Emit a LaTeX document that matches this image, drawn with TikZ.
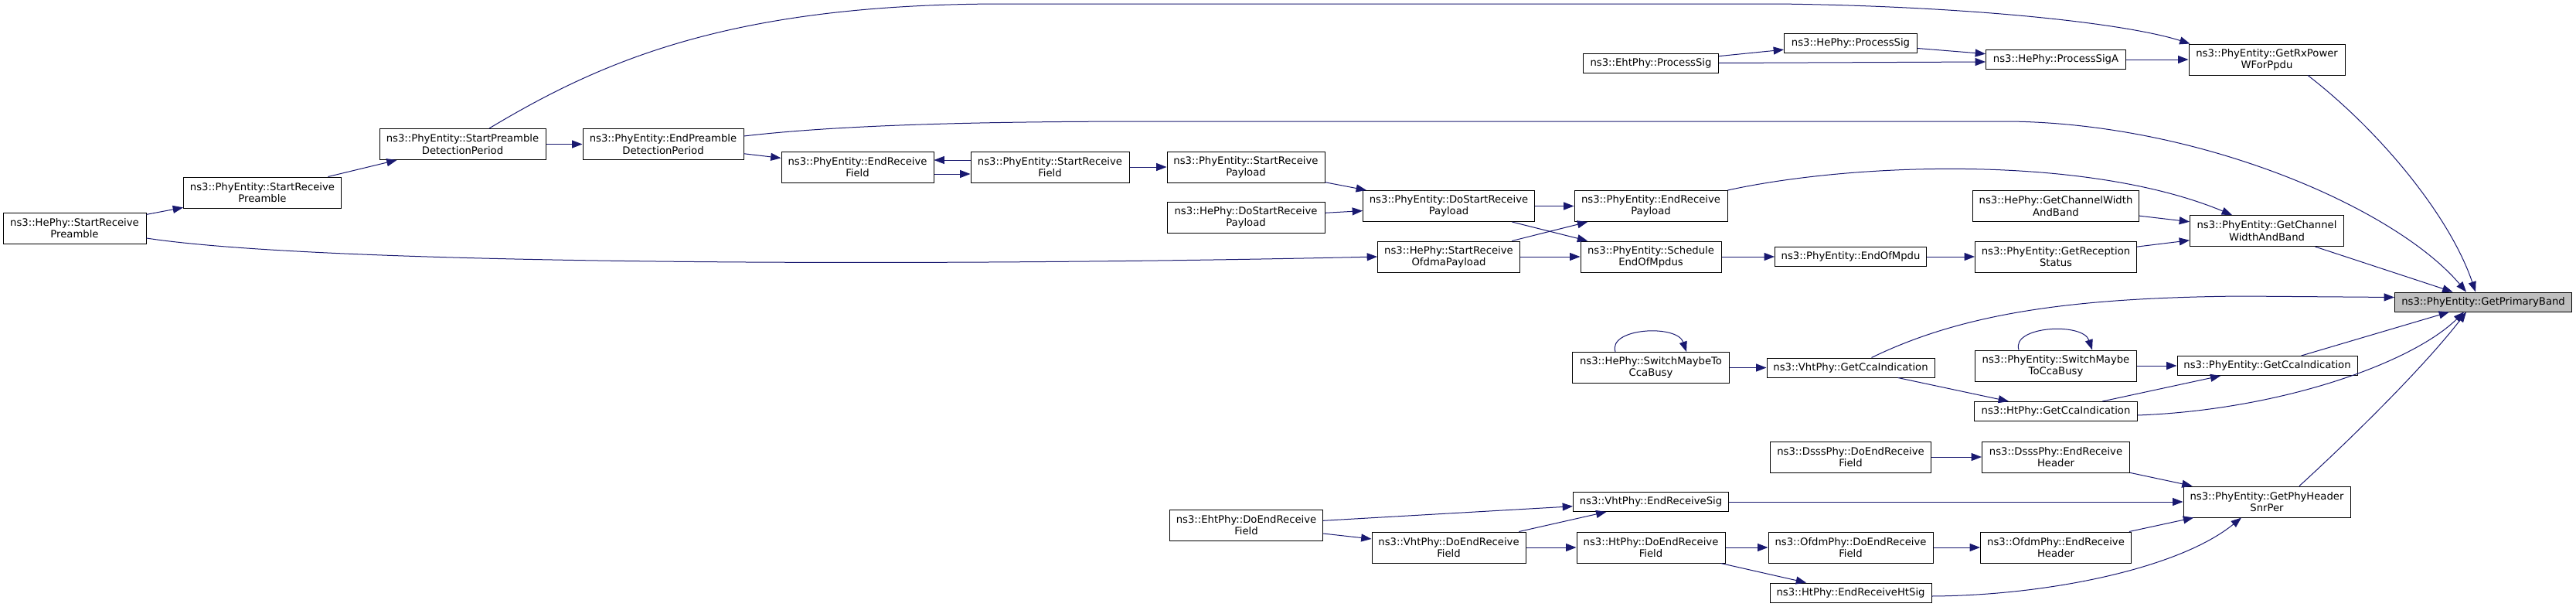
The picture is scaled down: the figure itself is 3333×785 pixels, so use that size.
\documentclass[tikz,border=0pt]{standalone}
\usepackage{fontspec}
\setmainfont{DejaVu Sans}
\usetikzlibrary{arrows.meta,calc}
\definecolor{edgeblue}{HTML}{191970}
\definecolor{focusgray}{HTML}{BFBFBF}
\tikzset{
  func/.style 2 args={draw=black, line width=0.75pt, fill=white,
    minimum width=#1*0.75pt, minimum height=#2*0.75pt, inner sep=0pt,
    align=center, font=\fontsize{9.9}{11.4}\selectfont},
  call/.style={draw=edgeblue, line width=0.75pt, -{Triangle[length=10pt,width=7.5pt]}}
}
\begin{document}
\begin{tikzpicture}[x=0.75pt,y=-0.75pt]
\useasboundingbox (0,0) rectangle (3333,785);
% callers, from left to right
\node[func={185}{40}] (hesrp) at (96.5,295) {ns3::HePhy::StartReceive\\Preamble};
\node[func={204}{40}] (srp) at (339.5,249) {ns3::PhyEntity::StartReceive\\Preamble};
\node[func={215}{40}] (spdp) at (598.5,186.5) {ns3::PhyEntity::StartPreamble\\DetectionPeriod};
\node[func={208}{40}] (epdp) at (858,186.5) {ns3::PhyEntity::EndPreamble\\DetectionPeriod};
\node[func={197}{40}] (erf) at (1109.5,216) {ns3::PhyEntity::EndReceive\\Field};
\node[func={205}{40}] (srf) at (1358.5,216) {ns3::PhyEntity::StartReceive\\Field};
\node[func={204}{40}] (srpl) at (1612,216) {ns3::PhyEntity::StartReceive\\Payload};
\node[func={204}{40}] (hedsrp) at (1612,281) {ns3::HePhy::DoStartReceive\\Payload};
\node[func={222}{40}] (dsrp) at (1874.5,266.5) {ns3::PhyEntity::DoStartReceive\\Payload};
\node[func={184}{40}] (hesrop) at (1874.5,332) {ns3::HePhy::StartReceive\\OfdmaPayload};
\node[func={198}{40}] (erp) at (2136,266.5) {ns3::PhyEntity::EndReceive\\Payload};
\node[func={182}{40}] (sched) at (2136,332) {ns3::PhyEntity::Schedule\\EndOfMpdus};
\node[func={196}{25}] (eom) at (2394.5,332) {ns3::PhyEntity::EndOfMpdu};
\node[func={209}{40}] (grs) at (2660,332) {ns3::PhyEntity::GetReception\\Status};
\node[func={215}{40}] (hgcwb) at (2660,266.5) {ns3::HePhy::GetChannelWidth\\AndBand};
\node[func={199}{40}] (gcwb) at (2933,298.5) {ns3::PhyEntity::GetChannel\\WidthAndBand};
\node[func={229}{25}, fill=focusgray] (gpb) at (3213,390.5) {ns3::PhyEntity::GetPrimaryBand};
\node[func={175}{25}] (ehtps) at (2136,81.5) {ns3::EhtPhy::ProcessSig};
\node[func={172}{25}] (heps) at (2394.5,55.5) {ns3::HePhy::ProcessSig};
\node[func={181}{25}] (hepsa) at (2660,77) {ns3::HePhy::ProcessSigA};
\node[func={202}{40}] (rxp) at (2933,77) {ns3::PhyEntity::GetRxPower\\WForPpdu};
\node[func={203}{40}] (hesmtcb) at (2136,475.5) {ns3::HePhy::SwitchMaybeTo\\CcaBusy};
\node[func={217}{25}] (vgcca) at (2394.5,475.5) {ns3::VhtPhy::GetCcaIndication};
\node[func={209}{40}] (pesmtcb) at (2660,473) {ns3::PhyEntity::SwitchMaybe\\ToCcaBusy};
\node[func={211}{25}] (htgcca) at (2660,532) {ns3::HtPhy::GetCcaIndication};
\node[func={233}{25}] (pegcca) at (2933.5,473) {ns3::PhyEntity::GetCcaIndication};
\node[func={208}{40}] (dsdorf) at (2394.5,591) {ns3::DsssPhy::DoEndReceive\\Field};
\node[func={191}{40}] (dserh) at (2660,591) {ns3::DsssPhy::EndReceive\\Header};
\node[func={216}{40}] (gphsp) at (2933,649) {ns3::PhyEntity::GetPhyHeader\\SnrPer};
\node[func={201}{25}] (vers) at (2136,649) {ns3::VhtPhy::EndReceiveSig};
\node[func={198}{40}] (ehtdorf) at (1612.5,679) {ns3::EhtPhy::DoEndReceive\\Field};
\node[func={199}{40}] (vdorf) at (1874.5,708) {ns3::VhtPhy::DoEndReceive\\Field};
\node[func={192}{40}] (htdorf) at (2136,708) {ns3::HtPhy::DoEndReceive\\Field};
\node[func={213}{40}] (odorf) at (2394.5,708) {ns3::OfdmPhy::DoEndReceive\\Field};
\node[func={195}{40}] (oerh) at (2660,708) {ns3::OfdmPhy::EndReceive\\Header};
\node[func={209}{25}] (htershs) at (2394.5,766.5) {ns3::HtPhy::EndReceiveHtSig};
% calls
\draw[call] (hesrp) -- (srp);
\draw[call] ($(hesrp.east)+(0,13)$) .. controls (420,343) and (1200,345) .. (hesrop.west);
\draw[call] (srp) -- (spdp);
\draw[call] (spdp) -- (epdp);
\draw[call] ($(spdp.north)+(34.5,0)$) .. controls (783,76) and (950,5) .. (1300,5) -- (2300,5)
  .. controls (2550,8) and (2750,30) .. ($(rxp.north west)+(2,0)$);
\draw[call] (epdp) -- (erf);
\draw[call] ($(epdp.east)+(0,-10.5)$) .. controls (1100,160) and (1300,157) .. (1500,157) -- (2600,157)
  .. controls (2850,160) and (3100,270) .. ($(gpb.north)+(-22,0)$);
\draw[call] ($(srf.west)+(0,-9)$) -- ($(erf.east)+(0,-9)$);
\draw[call] ($(erf.east)+(0,9)$) -- ($(srf.west)+(0,9)$);
\draw[call] (srf) -- (srpl);
\draw[call] (srpl) -- (dsrp);
\draw[call] (hedsrp) -- (dsrp);
\draw[call] (dsrp) -- (erp);
\draw[call] (dsrp) -- (sched);
\draw[call] (hesrop) -- (erp);
\draw[call] (hesrop) -- (sched);
\draw[call] (erp.north east) .. controls (2400,210) and (2700,200) .. ($(gcwb.north west)+(55,0)$);
\draw[call] (sched) -- (eom);
\draw[call] (eom) -- (grs);
\draw[call] (grs) -- (gcwb);
\draw[call] (hgcwb) -- (gcwb);
\draw[call] (gcwb) -- (gpb);
\draw[call] (ehtps) -- (heps);
\draw[call] (ehtps.east) -- ($(hepsa.west)+(0,3)$);
\draw[call] (heps) -- (hepsa);
\draw[call] (hepsa) -- (rxp);
\draw[call] ($(rxp.south)+(53,0)$) .. controls (3080,170) and (3170,280) .. ($(gpb.north)+(-10,0)$);
\draw[call] ($(hesmtcb.north)+(-46,0)$) .. controls +(-10,-31) and +(-12,-36) .. ($(hesmtcb.north)+(46,0)$);
\draw[call] (hesmtcb) -- (vgcca);
\draw[call] ($(vgcca.north)+(27,0)$) .. controls (2540,405) and (2680,385) .. (2900,383) -- ($(gpb.west)+(0,-6)$);
\draw[call] (vgcca) -- (htgcca);
\draw[call] ($(pesmtcb.north)+(-48,0)$) .. controls +(-10,-31) and +(-12,-36) .. ($(pesmtcb.north)+(47,0)$);
\draw[call] (pesmtcb) -- (pegcca);
\draw[call] (htgcca) -- (pegcca);
\draw[call] ($(htgcca.east)+(0,5)$) .. controls (2950,530) and (3120,470) .. ($(gpb.south)+(-25,0)$);
\draw[call] (pegcca) -- (gpb);
\draw[call] (dsdorf) -- (dserh);
\draw[call] (dserh) -- (gphsp);
\draw[call] (vers) -- (gphsp);
\draw[call] (ehtdorf) -- (vers);
\draw[call] (ehtdorf) -- (vdorf);
\draw[call] (vdorf) -- (vers);
\draw[call] (vdorf) -- (htdorf);
\draw[call] (htdorf) -- (odorf);
\draw[call] (htdorf) -- (htershs);
\draw[call] (odorf) -- (oerh);
\draw[call] (oerh) -- (gphsp);
\draw[call] ($(htershs.east)+(0,4.5)$) .. controls (2650,770) and (2820,735) .. ($(gphsp.south)+(-33,0)$);
\draw[call] ($(gphsp.north)+(42,0)$) .. controls (3050,560) and (3140,470) .. ($(gpb.south)+(-22,0)$);
\end{tikzpicture}
\end{document}
